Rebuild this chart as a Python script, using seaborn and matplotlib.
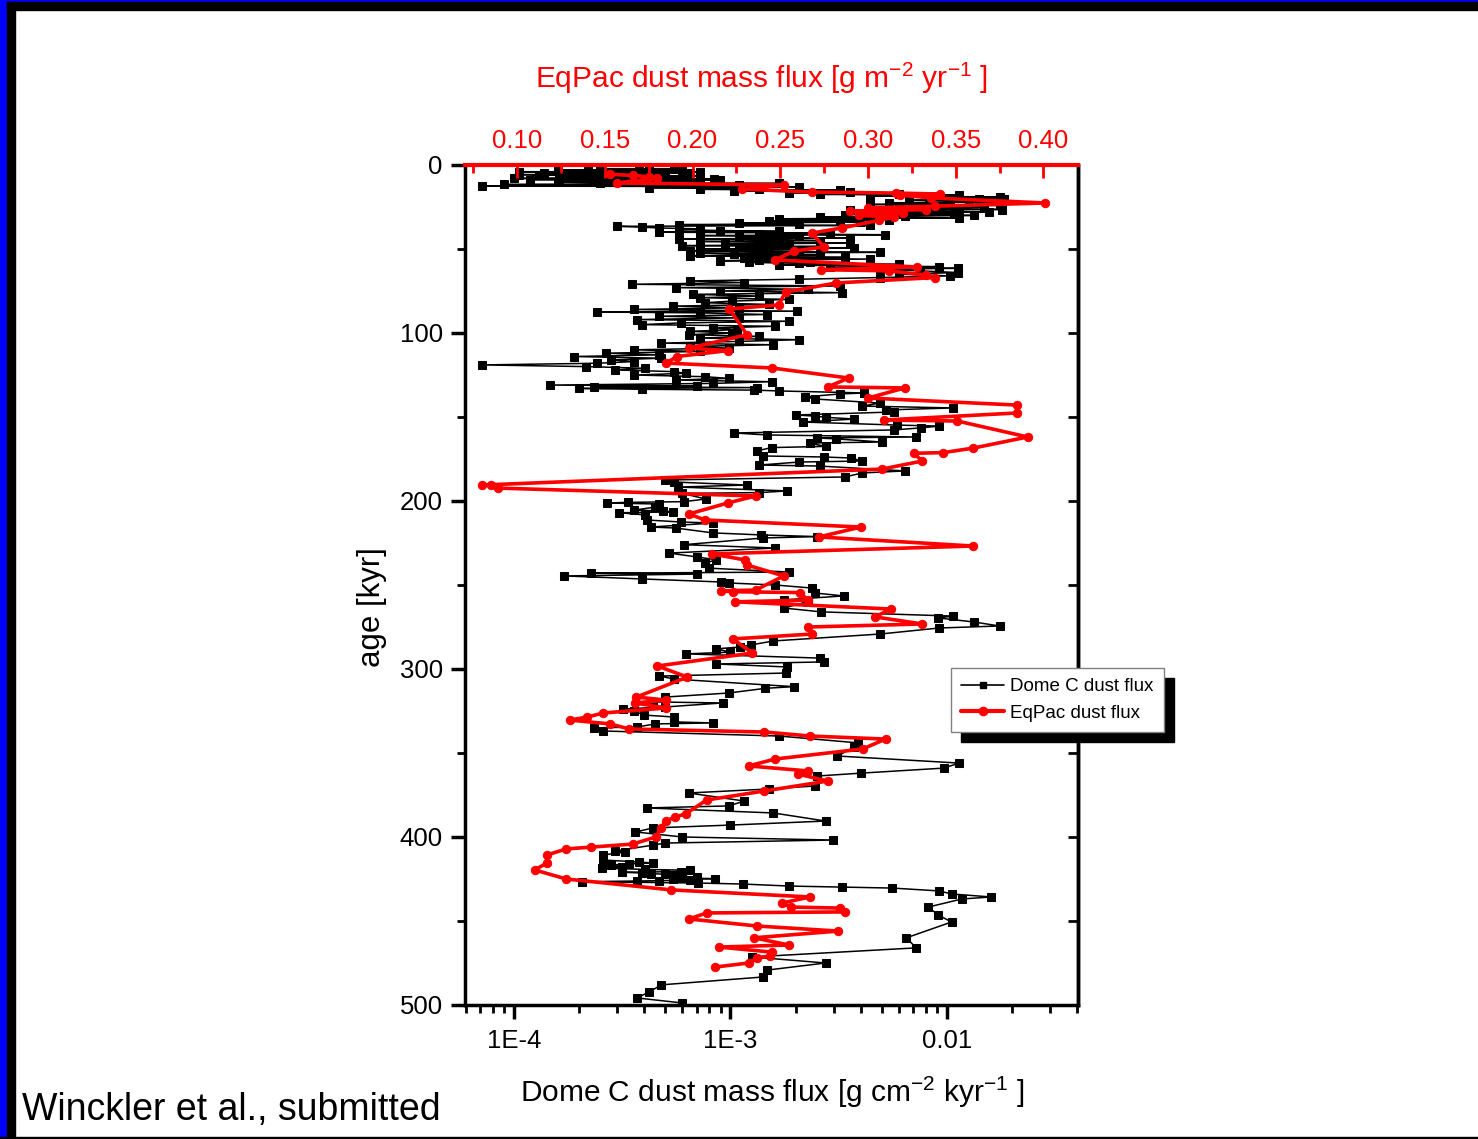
import matplotlib
matplotlib.use("Agg")
import matplotlib.pyplot as plt
import matplotlib.ticker as mticker
from matplotlib.lines import Line2D
from matplotlib.patches import Rectangle
import seaborn as sns

# Dome C dust flux (age kyr, flux g cm-2 kyr-1)
dome_holocene = [
    (2.3, 5.5e-4), (2.5, 2.5e-4), (2.8, 6.0e-4), (3, 1.6e-4), (3.2, 4.2e-4), (3.5, 3.8e-4),
    (3.7, 2.2e-4), (3.9, 5.0e-4), (4, 1.06e-4), (4.2, 7.2e-4), (4.5, 6.5e-4), (4.7, 1.38e-4),
    (5, 1.9e-4), (5.2, 4.7e-4), (5.5, 2.76e-4), (5.7, 1.06e-4), (6, 1.31e-4), (6.2, 3.2e-4),
    (6.5, 7.2e-4), (6.7, 1.62e-4), (7, 2.23e-4), (7.2, 6.5e-4), (7.5, 4.7e-4),
    (7.7, 2.76e-4), (8, 1.0e-4), (8.2, 8.4e-4), (8.5, 3.4e-4), (8.7, 1.18e-4),
    (9, 8.9e-4), (9.2, 3.8e-4), (9.5, 1.62e-4), (9.7, 7.2e-4), (10, 5.8e-4),
    (10.2, 1.6e-4), (10.5, 2.5e-4), (11, 1.68e-3), (11.5, 9.0e-5), (12, 1.1e-3),
    (12.5, 7.1e-5), (13, 2.08e-3), (13.5, 4.2e-4), (14, 1.36e-3), (14.5, 7.2e-4),
    (15, 3.19e-3), (15.5, 1.04e-3), (16, 3.55e-3), (16.5, 1.87e-3),
]
dome_lgm = [
    (17, 6.0e-3), (17.5, 2.58e-3), (18, 1.14e-2), (18.5, 4.4e-3), (19, 1.75e-2),
    (19.5, 8.3e-3), (20, 1.41e-2), (20.5, 1.84e-2), (21, 6.7e-3), (21.5, 1.27e-2),
    (22, 1.8e-2), (22.5, 5.4e-3), (23, 1.03e-2), (23.5, 4.4e-3), (24, 1.75e-2),
    (24.5, 9.2e-3), (25, 1.49e-2), (25.5, 6.0e-3), (26, 1.14e-2), (26.5, 1.8e-2),
    (27, 3.55e-3), (27.5, 8.3e-3), (28, 1.57e-2), (28.5, 4.9e-3), (29, 1.08e-2),
    (29.5, 3.37e-3), (30, 1.34e-2), (30.5, 6.4e-3), (31, 2.58e-3), (31.5, 1.14e-2),
    (32, 1.68e-3), (32.5, 5.4e-3), (33, 3.19e-3),
]
dome_mis3_4 = [
    (33.5, 1.51e-3), (34, 3.95e-3), (34.5, 1.1e-3), (35, 2.08e-3), (35.5, 5.8e-4),
    (36, 4.4e-3), (36.5, 3.0e-4), (37, 3.9e-4), (37.5, 4.7e-4), (38, 7.2e-4),
    (38.5, 5.8e-4), (39, 8.9e-4), (39.5, 1.68e-3), (40, 4.7e-4), (40.5, 2.87e-3),
    (41, 1.36e-3), (41.5, 5.15e-3), (42, 7.2e-4), (42.5, 2.08e-3), (43, 1.1e-3),
    (43.5, 3.55e-3), (44, 5.8e-4), (44.5, 1.68e-3), (45, 2.58e-3), (45.5, 7.2e-4),
    (46, 1.36e-3), (46.5, 3.55e-3), (47, 9.4e-4), (47.5, 1.87e-3), (48, 6.0e-4),
    (48.5, 2.58e-3), (49, 1.1e-3), (49.5, 3.74e-3), (50, 7.2e-4), (50.5, 2.08e-3),
    (51, 6.5e-4), (51.5, 1.36e-3), (52, 4.9e-3), (52.5, 7.2e-4), (53, 1.04e-3),
    (53.5, 2.58e-3), (54, 6.5e-4), (54.5, 1.68e-3), (55, 3.37e-3), (55.5, 1.16e-3),
    (56, 4.4e-3), (56.5, 1.36e-3), (57, 8.9e-4), (57.5, 2.32e-3), (58, 1.22e-3),
    (58.5, 2.08e-3), (59, 6.0e-3), (59.5, 1.68e-3), (60, 3.55e-3), (60.5, 9.2e-3),
    (61, 2.87e-3), (61.5, 1.12e-2), (62, 4.9e-3), (63, 7.5e-3), (64, 1.12e-2),
    (65, 6.0e-3), (66, 1.03e-2), (67, 4.9e-3),
]
dome_mis5 = [
    (68, 2.08e-3), (69, 6.5e-4), (70, 1.16e-3), (71, 3.5e-4), (72, 3.19e-3),
    (73, 5.6e-4), (74, 2.27e-3), (75, 8.9e-4), (76, 3.29e-3), (77, 6.7e-4),
    (78, 1.36e-3), (79, 7.2e-4), (80, 1.87e-3), (81, 1.02e-3), (82, 7.6e-4),
    (83, 1.51e-3), (84, 5.4e-4), (85, 1.1e-3), (86, 3.6e-4), (87, 2.04e-3),
    (87.5, 2.43e-4), (88, 7.2e-4), (89, 1.48e-3), (90, 4.7e-4), (91, 1.1e-3),
    (92, 3.7e-4), (93, 1.87e-3), (94, 5.9e-4), (95, 3.9e-4), (96, 1.61e-3),
    (97, 8.3e-4), (98, 1.07e-3), (99, 6.5e-4), (100, 1.02e-3), (101, 6.4e-4),
    (102, 1.36e-3), (103, 7.2e-4), (104, 2.08e-3), (105, 1.1e-3), (106, 4.8e-4),
    (107, 1.58e-3), (108, 6.5e-4), (109, 9.8e-4), (110, 3.6e-4), (111, 7.2e-4),
    (112, 2.65e-4), (113, 4.7e-4), (114, 1.9e-4), (115, 4.8e-4), (116, 2.82e-4),
    (117, 3.6e-4), (118, 2.43e-4), (119, 7.1e-5), (120, 2.16e-4), (121, 4.05e-4),
    (122, 2.94e-4), (123, 5.5e-4), (124, 6.2e-4), (125, 3.6e-4), (126, 7.6e-4),
    (127, 9.8e-4), (128, 5.6e-4), (129, 1.55e-3), (130, 8.3e-4), (131, 1.47e-4),
    (131.5, 7.0e-4), (132, 2.33e-4), (132.5, 1.32e-3), (133, 1.99e-4), (133.5, 3.9e-4),
    (134, 1.29e-3), (134.5, 1.68e-3),
]
dome_mis6 = [
    (135.7, 4.16e-3), (136.3, 3.19e-3), (138, 2.22e-3), (139.3, 2.47e-3), (141.7, 4.9e-3),
    (143.5, 4.07e-3), (144.6, 1.07e-2), (145.8, 5.25e-3), (147, 5.7e-3), (148.8, 2.0e-3),
    (149.5, 2.47e-3), (150.2, 2.75e-3), (151.2, 3.74e-3), (153, 2.17e-3), (154.8, 5.85e-3),
    (155.4, 9.2e-3), (156.5, 7.55e-3), (157.7, 5.7e-3), (159.5, 1.04e-3), (160.7, 1.48e-3),
    (161.9, 7.2e-3), (162.5, 2.52e-3), (163, 3.06e-3), (164.9, 5.0e-3), (165.5, 2.32e-3),
    (167.5, 2.75e-3), (168.2, 1.55e-3), (170.2, 1.32e-3), (173.2, 1.42e-3), (173.8, 2.69e-3),
    (174.4, 3.59e-3), (176.2, 4.07e-3), (176.8, 2.08e-3), (178.6, 1.36e-3), (179.2, 2.58e-3),
    (182.1, 6.4e-3), (183.3, 4.07e-3), (185.7, 3.37e-3),
]
dome_mis7 = [
    (187.5, 5.0e-4), (188.7, 5.5e-4), (190.5, 1.19e-3), (191.7, 5.75e-4), (194, 1.83e-3),
    (195, 1.36e-3), (195.5, 6.0e-4), (198.8, 7.7e-4), (200.4, 6.1e-4), (200.8, 3.35e-4),
    (201.2, 2.7e-4), (201.8, 4.7e-4), (203.6, 4.5e-4), (205.4, 3.6e-4), (206, 4.9e-4),
    (206.5, 5.4e-4), (207, 3.07e-4), (208.3, 4.05e-4), (211.3, 4.1e-4), (212.5, 5.9e-4),
    (213.1, 8.3e-4), (215.5, 4.3e-4), (216.1, 5.6e-4), (219, 8.3e-4), (220.2, 1.39e-3),
    (221.2, 2.52e-3), (222, 1.42e-3), (226, 6.1e-4), (228, 1.61e-3), (231, 5.2e-4),
    (233.3, 7.0e-4), (235, 8.6e-4), (237, 7.6e-4), (240, 8.0e-4), (242.3, 1.87e-3),
    (243, 2.28e-4), (243.5, 7.0e-4), (244.6, 1.71e-4), (246.4, 3.92e-4), (248.2, 9.0e-4),
    (248.8, 9.8e-4), (250, 1.61e-3),
]
dome_mis8_10 = [
    (251.8, 2.37e-3), (254.8, 2.47e-3), (256.5, 3.33e-3), (258.9, 1.76e-3), (260, 2.27e-3),
    (263.7, 1.76e-3), (266, 2.63e-3), (268.5, 1.07e-2), (269.6, 9.1e-3), (272, 1.33e-2),
    (274.4, 1.75e-2), (275.6, 9.2e-3), (279.2, 4.9e-3), (283.3, 1.58e-3), (285.7, 1.24e-3),
    (286.9, 1.11e-3), (288, 8.6e-4), (290, 1.0e-3), (291, 6.2e-4), (293.5, 2.58e-3),
    (295.8, 2.69e-3), (297, 8.6e-4), (298.8, 1.83e-3), (302.4, 1.8e-3), (304.2, 4.7e-4),
    (306, 5.5e-4), (310.5, 1.96e-3), (311.5, 1.45e-3), (314.3, 9.8e-4), (316.7, 5.0e-4),
    (319.6, 4.4e-4), (320.2, 9.2e-4), (322.6, 5.0e-4), (323.8, 3.2e-4), (325, 3.6e-4),
    (327.4, 3.97e-4), (328.6, 5.5e-4), (331.5, 5.5e-4), (332.1, 8.3e-4), (332.7, 4.5e-4),
    (334.5, 3.7e-4), (335.1, 2.33e-4), (336.9, 2.59e-4), (339.9, 1.68e-3), (344, 3.9e-3),
    (346.4, 3.74e-3), (351.8, 3.12e-3), (356, 1.14e-2), (359, 9.64e-3), (362, 3.99e-3),
    (363.7, 2.52e-3), (369.6, 2.47e-3), (371.4, 1.51e-3), (373.8, 6.4e-4), (378.6, 1.16e-3),
    (381.5, 9.8e-4), (382.7, 4.1e-4), (385.7, 1.58e-3), (390.5, 2.75e-3), (392.9, 1.0e-3),
    (394.6, 4.4e-4), (397, 3.64e-4), (400, 6.0e-4), (401.8, 2.99e-3), (403.6, 5.0e-4),
    (404.8, 4.4e-4),
]
dome_mis11_12 = [
    (408.3, 2.94e-4), (408.9, 3.27e-4), (410.7, 2.59e-4), (413.7, 2.59e-4), (414.9, 3.8e-4),
    (415.5, 4.4e-4), (416, 3.4e-4), (416.7, 2.82e-4), (418, 3.14e-4), (418.5, 2.54e-4),
    (419.3, 4.05e-4), (419.8, 6.5e-4), (420.6, 5.9e-4), (421, 3.14e-4), (421.4, 3.9e-4),
    (421.8, 4.3e-4), (422.2, 5.0e-4), (423, 5.5e-4), (424, 7.0e-4), (424.4, 6.0e-4),
    (424.8, 8.5e-4), (425.2, 5.4e-4), (425.6, 6.5e-4), (426, 4.7e-4), (426.2, 3.7e-4),
    (426.6, 2.07e-4), (427.4, 7.1e-4), (428, 1.14e-3), (429.2, 1.87e-3), (429.8, 3.26e-3),
    (430.4, 5.6e-3), (432.1, 9.2e-3), (433.9, 1.05e-2), (435.7, 1.6e-2), (436.9, 1.17e-2),
    (441.7, 8.2e-3), (446.4, 9.1e-3), (450.6, 1.05e-2), (460, 6.5e-3), (466, 7.2e-3),
    (471.4, 1.26e-3), (475, 2.75e-3), (479.2, 1.48e-3), (483.3, 1.42e-3), (488, 4.8e-4),
    (492.3, 4.2e-4), (495.8, 3.7e-4), (498.8, 6.0e-4),
]

# Equatorial Pacific dust flux (age kyr, flux g m-2 yr-1)
eqpac_0_130 = [
    (5.5, 0.153), (6.2, 0.166), (7.0, 0.175), (7.7, 0.180), (10.7, 0.157),
    (11.9, 0.252), (14.3, 0.228), (16.1, 0.268), (16.7, 0.316), (17.3, 0.341),
    (17.9, 0.318), (19.6, 0.336), (22.6, 0.401), (24.5, 0.338), (25.5, 0.300),
    (26.5, 0.333), (27.5, 0.290), (28.5, 0.320), (30, 0.295), (31, 0.315),
    (33, 0.306), (37.5, 0.285), (40.5, 0.268), (48.8, 0.275), (51.2, 0.258),
    (56.5, 0.247), (60.7, 0.328), (62.3, 0.273), (63, 0.312), (65.5, 0.333),
    (67, 0.338), (70.2, 0.282), (75.6, 0.253), (83.3, 0.249), (85.7, 0.221),
    (101, 0.231), (109, 0.198), (110.5, 0.220), (114, 0.191), (117.9, 0.185),
    (120.8, 0.245), (126.8, 0.289),
]
eqpac_130_260 = [
    (132.1, 0.277), (132.7, 0.321), (138.7, 0.300), (142.9, 0.385), (147.6, 0.385),
    (151.8, 0.309), (152.4, 0.351), (161.9, 0.391), (168.5, 0.360), (171.2, 0.343),
    (171.6, 0.326), (176.2, 0.331), (181, 0.308), (190.5, 0.080), (190.7, 0.085),
    (192.3, 0.089), (197, 0.236), (201.2, 0.220), (207.7, 0.198), (211.3, 0.207),
    (215.5, 0.296), (221.4, 0.272), (226.8, 0.360), (231.5, 0.211), (235.1, 0.230),
    (238.1, 0.231), (244.6, 0.252), (253, 0.236), (253.5, 0.216), (254, 0.223),
    (254.5, 0.261), (259, 0.266), (260, 0.224),
]
eqpac_260_480 = [
    (264.3, 0.313), (269, 0.304), (273.2, 0.331), (275, 0.266), (279.2, 0.268),
    (282.1, 0.223), (290.5, 0.234), (298.2, 0.180), (304.8, 0.197), (316.7, 0.168),
    (318.5, 0.185), (320.2, 0.167), (323.2, 0.185), (326.2, 0.149), (328.6, 0.140),
    (330.4, 0.130), (332.7, 0.153), (335.7, 0.164), (337.5, 0.241), (339.9, 0.267),
    (341.7, 0.310), (347.6, 0.297), (353.6, 0.247), (357.7, 0.232), (360.7, 0.266),
    (362.5, 0.260), (366.7, 0.277), (372.6, 0.241), (378, 0.208), (386.3, 0.196),
    (388, 0.190), (390.5, 0.185), (394.6, 0.182), (400, 0.179), (404.2, 0.166),
    (406, 0.142), (407.1, 0.128), (410.7, 0.117), (415.5, 0.117), (419.6, 0.110),
    (425, 0.128), (431.5, 0.188), (435.7, 0.267), (439.3, 0.251), (441.7, 0.256),
    (442.3, 0.284), (444.6, 0.287), (445.2, 0.208), (448.8, 0.198), (453, 0.237),
    (456, 0.283), (460, 0.235), (464.3, 0.255), (465.5, 0.215), (468.5, 0.245),
    (470.8, 0.244), (472, 0.237), (475, 0.232), (477.4, 0.213),
]

bottom_ticks = [1e-4, 1e-3, 1e-2]
bottom_labels = ["1E-4", "1E-3", "0.01"]
top_ticks = [0.10, 0.15, 0.20, 0.25, 0.30, 0.35, 0.40]
age_ticks = [0, 100, 200, 300, 400, 500]

dome = dome_holocene + dome_lgm + dome_mis3_4 + dome_mis5 + dome_mis6 + dome_mis7 + dome_mis8_10 + dome_mis11_12
eqpac = eqpac_0_130 + eqpac_130_260 + eqpac_260_480
dome_age = [a for a, f in dome]
dome_flux = [f for a, f in dome]
eq_age = [a for a, f in eqpac]
eq_flux = [f for a, f in eqpac]

sns.set_style("ticks")
plt.rcParams["font.family"] = ["Liberation Sans", "DejaVu Sans"]
plt.rcParams["mathtext.fontset"] = "custom"
plt.rcParams["mathtext.rm"] = "Liberation Sans"
plt.rcParams["mathtext.it"] = "Liberation Sans:italic"
plt.rcParams["text.color"] = "black"
plt.rcParams["axes.labelcolor"] = "black"
plt.rcParams["xtick.color"] = "black"
plt.rcParams["ytick.color"] = "black"
plt.rcParams["axes.edgecolor"] = "black"

W, H = 1478, 1139
fig = plt.figure(figsize=(W / 100, H / 100), dpi=100, facecolor="white")

# slide frame
fig.patches.append(Rectangle((0, 0), 7 / W, 1, transform=fig.transFigure, color="#0000ff", zorder=0))
fig.patches.append(Rectangle((0, 1 - 2 / H), 1, 2 / H, transform=fig.transFigure, color="#0000ff", zorder=0))
fig.patches.append(Rectangle((7 / W, 0), 8 / W, 1 - 2 / H, transform=fig.transFigure, color="black", zorder=0))
fig.patches.append(Rectangle((7 / W, 1 - 10 / H), 1, 8 / H, transform=fig.transFigure, color="black", zorder=0))
fig.patches.append(Rectangle((0, 0), 1, 2 / H, transform=fig.transFigure, color="black", zorder=0))

ax = fig.add_axes([465 / W, 1 - 1005 / H, 613 / W, 840 / H])
ax.set_xscale("log")
sns.lineplot(x=dome_flux, y=dome_age, sort=False, estimator=None, ax=ax,
             color="black", linewidth=1.1, marker="s", markersize=5.3,
             markeredgecolor="black", markerfacecolor="black")
ax.set_xlim(5.94e-5, 4.03e-2)
ax.set_ylim(500, 0)
ax.set_xlabel("")
ax.set_ylabel("")
ax.xaxis.set_major_locator(mticker.FixedLocator(bottom_ticks))
ax.xaxis.set_major_formatter(mticker.FixedFormatter(bottom_labels))
ax.xaxis.set_minor_locator(mticker.LogLocator(base=10, subs=[2, 3, 4, 5, 6, 7, 8, 9], numticks=20))
ax.xaxis.set_minor_formatter(mticker.NullFormatter())
ax.yaxis.set_major_locator(mticker.FixedLocator(age_ticks))
ax.yaxis.set_minor_locator(mticker.MultipleLocator(50))
ax.tick_params(axis="x", which="major", direction="out", length=10, width=2.5,
               labelsize=18.5, pad=7, colors="black")
ax.tick_params(axis="x", which="minor", direction="out", length=6, width=2, colors="black")
ax.tick_params(axis="y", which="major", direction="out", length=10, width=2.5,
               labelsize=18.5, pad=6, colors="black")
ax.tick_params(axis="y", which="minor", direction="out", length=6, width=2, colors="black")
for s in ["left", "bottom", "right"]:
    ax.spines[s].set_linewidth(2.5)
    ax.spines[s].set_color("black")

right = ax.secondary_yaxis("right")
right.yaxis.set_major_locator(mticker.MultipleLocator(50))
right.tick_params(axis="y", direction="in", length=7, width=2, labelright=False, colors="black")
right.spines["right"].set_linewidth(2.5)
right.spines["right"].set_color("black")

ax2 = ax.twiny()
sns.lineplot(x=eq_flux, y=eq_age, sort=False, estimator=None, ax=ax2,
             color="red", linewidth=2.6, marker="o", markersize=6,
             markeredgecolor="red", markerfacecolor="red")
ax2.set_xlim(0.0703, 0.4197)
ax2.set_ylim(500, 0)
ax2.set_xlabel("")
ax2.set_ylabel("")
ax2.xaxis.set_major_locator(mticker.FixedLocator(top_ticks))
ax2.xaxis.set_major_formatter(mticker.FormatStrFormatter("%.2f"))
ax2.xaxis.set_minor_locator(mticker.MultipleLocator(0.025))
ax2.tick_params(axis="x", which="major", direction="in", length=9, width=2,
                colors="red", labelcolor="red", labelsize=18.5, pad=9)
ax2.tick_params(axis="x", which="minor", direction="in", length=6, width=2, colors="red")
ax2.spines["top"].set_color("red")
ax2.spines["top"].set_linewidth(3)
for s in ["left", "bottom", "right"]:
    ax2.spines[s].set_visible(False)

fig.text(762 / W, 1 - 78 / H, r"EqPac dust mass flux [g m$^{-2}$ yr$^{-1}$ ]",
         color="red", fontsize=21.5, ha="center", va="center")
fig.text(772 / W, 1 - 1092 / H, r"Dome C dust mass flux [g cm$^{-2}$ kyr$^{-1}$ ]",
         color="black", fontsize=21.5, ha="center", va="center")
fig.text(372 / W, 1 - 607 / H, "age [kyr]", rotation=90, fontsize=22.5,
         ha="center", va="center")
fig.text(22 / W, 1 - 1110 / H, "Winckler et al., submitted", fontsize=27,
         ha="left", va="center")

handles = [
    Line2D([], [], color="black", linewidth=1.2, marker="s", markersize=5),
    Line2D([], [], color="red", linewidth=3, marker="o", markersize=6),
]
leg = fig.legend(handles, ["Dome C dust flux", "EqPac dust flux"],
                 loc="upper left", bbox_to_anchor=(951 / W, 1 - 668 / H),
                 bbox_transform=fig.transFigure, borderaxespad=0, fontsize=13.5,
                 frameon=True, fancybox=False, edgecolor="#808080", framealpha=1,
                 handlelength=2.3, handletextpad=0.3, borderpad=0.55, labelspacing=0.5)
leg.get_frame().set_linewidth(1)
leg.set_zorder(10)

fig.canvas.draw()
bb = leg.get_window_extent()
fig.patches.append(Rectangle((bb.x0 + 10, bb.y0 - 10), bb.width, bb.height,
                             transform=None, color="black", zorder=9))

fig.savefig("out.png", dpi=100, facecolor="white")
